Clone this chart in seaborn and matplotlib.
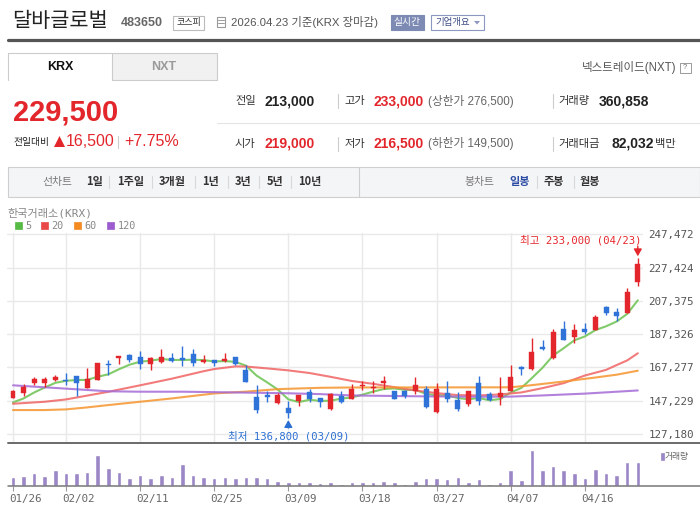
import numpy as np
import pandas as pd
import matplotlib
matplotlib.use('Agg')
import matplotlib.pyplot as plt
import matplotlib.transforms as mtransforms
from matplotlib.patches import Rectangle, Polygon
from matplotlib.lines import Line2D
import seaborn as sns

# ---------------- data ----------------
dates = ["01/26","01/27","01/28","01/29","01/30","02/02","02/03","02/04","02/05","02/06",
         "02/09","02/10","02/11","02/12","02/13","02/19","02/20","02/23","02/24","02/25",
         "02/26","02/27","03/03","03/04","03/05","03/06","03/09","03/10","03/11","03/12",
         "03/13","03/16","03/17","03/18","03/19","03/20","03/23","03/24","03/25","03/26",
         "03/27","03/30","03/31","04/01","04/02","04/03","04/06","04/07","04/08","04/09",
         "04/10","04/13","04/14","04/15","04/16","04/17","04/20","04/21","04/22","04/23"]
opens = [149000,152000,158000,158000,159800,159600,162000,155000,159800,169600,
         173000,174600,173800,169400,170600,173200,172800,175200,170600,171600,
         171200,173400,165600,149400,150600,146000,142800,147200,152200,149000,
         142000,150200,148400,156200,154600,157600,152800,152800,153000,154200,
         140200,151800,147400,145200,157600,151400,149400,153000,167400,166400,
         179500,172800,190700,185500,190700,189900,203900,200500,200000,219000]
highs = [153600,157000,161400,161400,163000,163800,162000,166800,170000,171600,
         174200,175200,177000,173800,178300,175800,180000,178300,174600,171600,
         175800,173600,168600,156600,153000,152000,147000,150600,154200,149000,
         152000,152800,157400,159200,159200,162000,152800,153800,161800,156000,
         157800,158800,152400,152800,162400,152600,161800,168600,168200,185300,
         183900,190700,195500,193500,194300,198900,204500,202900,215300,233000]
lows = [148600,150200,156600,155200,159200,156600,150000,154800,159800,163000,
        169400,170800,166400,165800,170200,170600,168200,168000,170000,168200,
        170600,168600,158400,140000,146600,145000,136800,144200,146200,143600,
        141800,145800,148000,153800,152000,154200,148000,148600,151000,143000,
        139800,146200,140800,144000,144800,147000,144800,153000,163000,166000,
        177900,172400,183900,181900,187500,189900,198900,195300,200000,216500]
closes = [152800,155400,160200,160200,161400,158800,158000,160400,169800,168600,
          174000,171800,169400,172800,173800,171200,171600,170200,171600,169800,
          172200,169400,158600,141800,149400,150600,139800,150600,148400,146200,
          151000,146400,154000,156800,155200,158800,148400,149800,156400,143400,
          154400,148000,142000,152800,147000,147600,151800,161800,166400,176800,
          178500,188700,183900,190100,188500,197700,200100,198300,213000,229500]
volumes = [135300,150400,195500,150400,240600,195500,195500,210500,466100,270600,
           210500,120300,165400,120300,165400,135300,330800,165400,135300,120300,
           135300,120300,135300,135300,120300,75200,60100,60100,60100,45100,
           60100,30100,60100,60100,60100,75200,60100,30100,75200,120300,
           120300,105300,135300,60100,105300,35100,60100,240600,90200,541300,
           240600,300700,240600,195500,120300,255600,195500,165400,358000,360858]
ma5 = [146200,148600,152200,155200,158000,159200,159720,159760,161680,163120,
       166160,168920,170720,171320,172360,171800,171760,171920,171680,170880,
       171080,170640,168320,162360,158280,153960,148040,146440,147760,147120,
       147200,148520,149200,150880,152680,154240,154640,153800,153720,151360,
       150480,150400,148840,148120,148840,147480,148240,152200,154920,160880,
       167060,174440,178860,183600,185940,189780,192060,194940,199520,207720]
ma20_idx = [0, 3, 5, 9, 12, 15, 18, 19, 20, 21, 22, 24, 26, 28, 30, 32, 34, 36, 38,
            40, 42, 44, 46, 48, 50, 52, 54, 56, 57, 58, 59]
ma20_val = [145400,146600,148000,152600,156500,160500,165000,166300,167100,167900,167800,
            166700,165500,163900,161600,159100,157400,155400,153400,151800,150600,
            150400,151000,152200,154800,157800,162400,165800,168700,171500,175800]
ma60_idx = [0, 3, 5, 7, 9, 12, 15, 19, 22, 25, 29, 32, 40, 47, 49, 52, 55, 57, 59]
ma60_val = [141600,141600,142000,143200,144600,146600,148600,151600,152700,154200,
            155000,155200,155250,155300,156600,158800,161200,162900,165300]
ma120_idx = [0, 5, 9, 12, 16, 19, 26, 29, 32, 38, 44, 47, 50, 54, 59]
ma120_val = [156500,154500,152900,152650,152650,152400,151700,151200,150400,149900,
             149600,149700,150400,151500,153400]
y_ticks = [127180, 147229, 167277, 187326, 207375, 227424, 247472]
x_tick_labels = ["01/26","02/02","02/11","02/25","03/09","03/18","03/27","04/07","04/16"]

# ---------------- style ----------------
sns.set_theme(style='white')
KR = ['Noto Sans CJK KR', 'DejaVu Sans']
NUM = ['Liberation Sans', 'Noto Sans CJK KR']
MONO = ['DejaVu Sans Mono', 'Noto Sans CJK KR']
plt.rcParams['font.family'] = KR

RED = '#e2262b'
BLUE = '#2f73d8'

W, H = 700, 512
fig = plt.figure(figsize=(7, 5.12), dpi=100)
fig.patch.set_facecolor('white')

def fx(x): return x / W
def fy(y): return 1 - y / H

def txt(x, y, s, size, color='#333', weight='normal', ha='left', va='center', family=KR):
    fig.text(fx(x), fy(y), s, fontsize=size, color=color, fontweight=weight,
             ha=ha, va=va, family=family)

def rect(x0, y0, x1, y1, fc='none', ec='none', lw=1.0, z=1):
    fig.add_artist(Rectangle((fx(x0), fy(y1)), (x1 - x0) / W, (y1 - y0) / H,
                             transform=fig.transFigure, facecolor=fc, edgecolor=ec,
                             linewidth=lw, zorder=z))

def line(x0, y0, x1, y1, color, lw):
    fig.add_artist(Line2D([fx(x0), fx(x1)], [fy(y0), fy(y1)], transform=fig.transFigure,
                          color=color, linewidth=lw))

# ---------------- header ----------------
txt(12, 21, '달바글로벌', 15, '#222')
txt(121, 23, '483650', 9, '#666', 'bold', family=NUM)
rect(173, 15.5, 204, 29.5, fc='white', ec='#bbbbbb', lw=0.8)
txt(188.5, 22.5, '코스피', 6.5, '#333', ha='center')
# calendar icon
rect(216.5, 17, 225, 27, fc='white', ec='#9a9a9a', lw=0.8)
line(218, 20, 223.5, 20, '#9a9a9a', 0.7)
line(218, 23, 223.5, 23, '#9a9a9a', 0.7)
txt(231, 22.5, '2026.04.23 기준(KRX 장마감)', 8.2, '#555', family=NUM)
rect(390.5, 15, 424, 30, fc='#7c8ab4', ec='#7c8ab4', lw=0.8)
txt(407.3, 22.5, '실시간', 7, 'white', ha='center')
rect(431, 15, 484, 30, fc='white', ec='#8d98c2', lw=0.8)
txt(435, 22.5, '기업개요', 6.8, '#3d4d88')
fig.add_artist(Polygon([[fx(474), fy(21)], [fx(480), fy(21)], [fx(477), fy(24.5)]],
                       closed=True, transform=fig.transFigure, facecolor='#8d98c2', edgecolor='none'))
line(8, 40, 700, 40, '#555555', 2.3)

# tabs
rect(112, 53, 216.5, 80, fc='#f1f1f1', ec='#cccccc', lw=0.8)
line(8, 53, 112, 53, '#cccccc', 0.8)
line(8, 53, 8, 80, '#cccccc', 0.8)
txt(60, 67, 'KRX', 9, '#111', 'bold', ha='center', family=NUM)
txt(164, 67, 'NXT', 9, '#9a9a9a', 'bold', ha='center', family=NUM)
txt(676, 67.5, '넥스트레이드(NXT)', 8.3, '#555', ha='right', family=NUM)
rect(680, 62.5, 690.5, 73, fc='white', ec='#9a9a9a', lw=0.7)
txt(685.3, 67.8, '?', 5.5, '#777', ha='center', family=NUM)

# price block
txt(13, 112.5, '229,500', 21, RED, 'bold', family=NUM)
txt(14, 141.5, '전일대비', 7, '#222')
fig.add_artist(Polygon([[fx(54), fy(147)], [fx(65), fy(147)], [fx(59.5), fy(136)]],
                       closed=True, transform=fig.transFigure, facecolor=RED, edgecolor='none'))
txt(66, 141, '16,500', 11.5, RED, family=NUM)
line(118, 135.5, 118, 147.5, '#cccccc', 0.8)
txt(124, 141, '+7.75%', 11.5, RED, family=NUM)

# info table
line(217, 123.3, 700, 123.3, '#e4e4e4', 0.8)
for yy in (101, 144):
    line(338, yy - 7, 338, yy + 7, '#cccccc', 0.8)
    line(552.7, yy - 7, 552.7, yy + 7, '#cccccc', 0.8)
txt(235, 101, '전일', 8.1, '#333')
txt(264.5, 101, '213,000', 10, '#222', 'bold', family=NUM)
txt(344.5, 101, '고가', 8.1, '#333')
txt(374, 101, '233,000', 10, RED, 'bold', family=NUM)
txt(428.5, 101, '(상한가 276,500)', 8.4, '#666', family=NUM)
txt(558, 101, '거래량', 8.1, '#333')
txt(599, 101, '360,858', 10, '#222', 'bold', family=NUM)
txt(235, 144, '시가', 8.1, '#333')
txt(264.5, 144, '219,000', 10, RED, 'bold', family=NUM)
txt(344.5, 144, '저가', 8.1, '#333')
txt(374, 144, '216,500', 10, RED, 'bold', family=NUM)
txt(428.5, 144, '(하한가 149,500)', 8.4, '#666', family=NUM)
txt(558, 144, '거래대금', 8.1, '#333')
txt(611, 144, '82,032', 10, '#222', 'bold', family=NUM)
txt(655, 144, '백만', 8.1, '#333')

# toolbar
rect(8, 167, 700, 197, fc='#f4f5f7', ec='#cfcfcf', lw=0.8)
line(358.5, 167, 358.5, 197, '#cfcfcf', 0.8)
ty = 181.8
txt(42, ty, '선차트', 7.8, '#777')
for lab, xx in [('1일', 86), ('1주일', 117), ('3개월', 159), ('1년', 202),
                ('3년', 235), ('5년', 266.5), ('10년', 298)]:
    txt(xx, ty, lab, 8, '#333', 'bold')
for xx in (109, 152, 195, 228, 259, 291, 537, 573.6):
    line(xx, ty - 6, xx, ty + 6, '#d8d8d8', 0.8)
txt(464, ty, '봉차트', 7.8, '#777')
txt(509, ty, '일봉', 8, '#2c4ca3', 'bold')
txt(544, ty, '주봉', 8, '#333', 'bold')
txt(580, ty, '월봉', 8, '#333', 'bold')

# chart legend
txt(7, 213.2, '한국거래소(KRX)', 8, '#888', family=MONO)
for (x0, col, lab, xt) in [(15, '#55bb44', '5', 25), (41, '#e84848', '20', 51.5),
                           (74, '#f48a20', '60', 84), (107, '#9c5ccf', '120', 117.5)]:
    rect(x0, 222, x0 + 7, 228.5, fc=col, ec=col, lw=0.5)
    txt(xt, 225.8, lab, 7.3, '#888', family=MONO)

# ---------------- main price chart ----------------
idx = np.arange(len(dates))
xl = (-0.567, 59.49)
ax = fig.add_axes([fx(7), fy(442.7), (643 - 7) / W, (442.7 - 233) / H])
ax.set_xlim(*xl)
ax.set_ylim(121932, 248255)
for s in ax.spines.values():
    s.set_visible(False)
tick_idx = [dates.index(l) for l in x_tick_labels]
ax.set_xticks(tick_idx)
ax.set_yticks(y_ticks)
ax.grid(True, color='#e9e9e9', lw=1.0)
ax.set_axisbelow(True)
ax.yaxis.tick_right()
ax.set_yticklabels([f'{v:,}' for v in y_ticks], family=MONO, fontsize=7.8, color='#555')
ax.tick_params(axis='y', length=0, pad=3.8)
ax.tick_params(axis='x', length=0, labelbottom=False)

ma_df = pd.DataFrame({'i': idx, 'v': ma5})
sns.lineplot(data=ma_df, x='i', y='v', ax=ax, color='#74c65a', lw=1.5, alpha=0.9, zorder=2)
sns.lineplot(x=ma20_idx, y=ma20_val, ax=ax, color='#f06464', lw=1.5, alpha=0.85, zorder=2)
sns.lineplot(x=ma60_idx, y=ma60_val, ax=ax, color='#f5962f', lw=1.5, alpha=0.85, zorder=2)
sns.lineplot(x=ma120_idx, y=ma120_val, ax=ax, color='#a56bd6', lw=1.5, alpha=0.85, zorder=2)
ax.set_xlabel('')
ax.set_ylabel('')

o = np.array(opens); c = np.array(closes); h = np.array(highs); l = np.array(lows)
cols = [RED if cc >= oo else BLUE for oo, cc in zip(o, c)]
ax.vlines(idx, l, h, colors=cols, lw=1.0, zorder=3)
body_low = np.minimum(o, c)
body_h = np.maximum(np.abs(c - o), 700)
ax.bar(idx, body_h, bottom=body_low, width=0.47, color=cols, edgecolor=cols, lw=0.3, zorder=4)

# high / low annotations
ih = int(np.argmax(h)); il = int(np.argmin(l))
pt = 0.72
ax.annotate(f'최고 {h[ih]:,} ({dates[ih]})', xy=(ih, h[ih]), xytext=(4 * pt, 18.3 * pt),
            textcoords='offset points', ha='right', va='center', color='#e5262b',
            fontsize=7.6, family=MONO, annotation_clip=False)
ax.annotate('', xy=(ih, h[ih]), xytext=(0, 12 * pt), textcoords='offset points',
            arrowprops=dict(arrowstyle='-|>,head_length=0.35,head_width=0.2', color='#e5262b',
                            lw=1.0, shrinkA=0, shrinkB=1.5))
ax.annotate(f'최저 {l[il]:,} ({dates[il]})', xy=(il, l[il]), xytext=(0.5 * pt, -18.7 * pt),
            textcoords='offset points', ha='center', va='center', color='#2a6fd2',
            fontsize=7.6, family=MONO, annotation_clip=False)
ax.annotate('', xy=(il, l[il]), xytext=(0, -10 * pt), textcoords='offset points',
            arrowprops=dict(arrowstyle='-|>,head_length=0.35,head_width=0.2', color='#2a6fd2',
                            lw=1.0, shrinkA=0, shrinkB=1.5))

line(8, 442.7, 700, 442.7, '#6a6a6a', 1.4)

# ---------------- volume chart ----------------
vax = fig.add_axes([fx(7), fy(486), (643 - 7) / W, 40 / H])
vax.set_xlim(*xl)
vax.set_ylim(0, 601000)
for s in vax.spines.values():
    s.set_visible(False)
vax.bar(idx, volumes, width=0.43, color='#9b86c6', zorder=2)
vax.set_xticks(tick_idx)
vax.set_yticks([])
vax.tick_params(axis='x', bottom=True, direction='out', length=3.4, width=0.8,
                color='#999999', labelbottom=False)
tr = mtransforms.blended_transform_factory(vax.transData, vax.transAxes) + \
    mtransforms.ScaledTranslation(-4 / 100, 0, fig.dpi_scale_trans)
for ti, lab in zip(tick_idx, x_tick_labels):
    vax.text(ti, -0.333, lab, transform=tr, ha='left', va='center', fontsize=7.8,
             color='#666', family=MONO, clip_on=False)
line(8, 486, 700, 486, '#777777', 1.1)
rect(661, 452.7, 663.5, 459.5, fc='#9b86c6', ec='#9b86c6', lw=0.5)
txt(665, 456, '거래량', 6.3, '#666')

fig.savefig('out.png', dpi=100)
